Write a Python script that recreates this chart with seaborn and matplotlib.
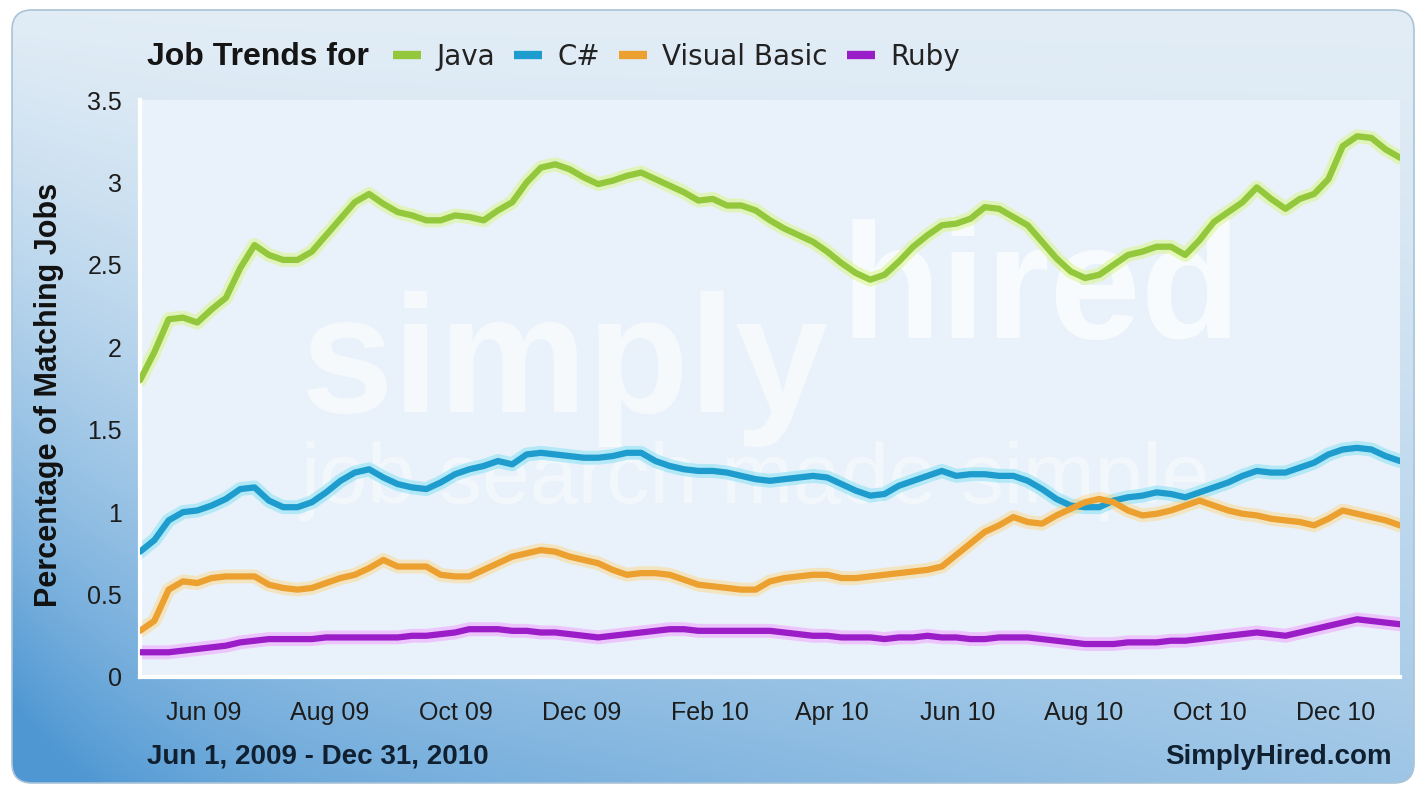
import numpy as np
import pandas as pd
import matplotlib
matplotlib.use("Agg")
import matplotlib.pyplot as plt
import matplotlib.dates as mdates
import matplotlib.colors as mcolors
from matplotlib.lines import Line2D
from matplotlib.patches import FancyBboxPatch
import seaborn as sns

# weekly share of job postings (%)
java = [1.80, 1.97, 2.17, 2.18, 2.15, 2.23, 2.30, 2.48, 2.62, 2.56,
        2.53, 2.53, 2.58, 2.68, 2.78, 2.88, 2.93, 2.87, 2.82, 2.80,
        2.77, 2.77, 2.80, 2.79, 2.77, 2.83, 2.88, 3.00, 3.09, 3.11,
        3.08, 3.03, 2.99, 3.01, 3.04, 3.06, 3.02, 2.98, 2.94, 2.89,
        2.90, 2.86, 2.86, 2.83, 2.77, 2.72, 2.68, 2.64, 2.58, 2.51,
        2.45, 2.41, 2.44, 2.52, 2.61, 2.68, 2.74, 2.75, 2.78, 2.85,
        2.84, 2.79, 2.74, 2.64, 2.54, 2.46, 2.42, 2.44, 2.50, 2.56,
        2.58, 2.61, 2.61, 2.56, 2.65, 2.76, 2.82, 2.88, 2.97, 2.90,
        2.84, 2.90, 2.93, 3.02, 3.22, 3.28, 3.27, 3.20, 3.15]
csharp = [0.76, 0.83, 0.95, 1.00, 1.01, 1.04, 1.08, 1.14, 1.15, 1.07,
          1.03, 1.03, 1.06, 1.12, 1.19, 1.24, 1.26, 1.21, 1.17, 1.15,
          1.14, 1.18, 1.23, 1.26, 1.28, 1.31, 1.29, 1.35, 1.36, 1.35,
          1.34, 1.33, 1.33, 1.34, 1.36, 1.36, 1.31, 1.28, 1.26, 1.25,
          1.25, 1.24, 1.22, 1.20, 1.19, 1.20, 1.21, 1.22, 1.21, 1.17,
          1.13, 1.10, 1.11, 1.16, 1.19, 1.22, 1.25, 1.22, 1.23, 1.23,
          1.22, 1.22, 1.19, 1.14, 1.08, 1.04, 1.03, 1.03, 1.07, 1.09,
          1.10, 1.12, 1.11, 1.09, 1.12, 1.15, 1.18, 1.22, 1.25, 1.24,
          1.24, 1.27, 1.30, 1.35, 1.38, 1.39, 1.38, 1.34, 1.31]
vbasic = [0.28, 0.34, 0.53, 0.58, 0.57, 0.60, 0.61, 0.61, 0.61, 0.56,
          0.54, 0.53, 0.54, 0.57, 0.60, 0.62, 0.66, 0.71, 0.67, 0.67,
          0.67, 0.62, 0.61, 0.61, 0.65, 0.69, 0.73, 0.75, 0.77, 0.76,
          0.73, 0.71, 0.69, 0.65, 0.62, 0.63, 0.63, 0.62, 0.59, 0.56,
          0.55, 0.54, 0.53, 0.53, 0.58, 0.60, 0.61, 0.62, 0.62, 0.60,
          0.60, 0.61, 0.62, 0.63, 0.64, 0.65, 0.67, 0.74, 0.81, 0.88,
          0.92, 0.97, 0.94, 0.93, 0.98, 1.02, 1.06, 1.08, 1.06, 1.01,
          0.98, 0.99, 1.01, 1.04, 1.07, 1.04, 1.01, 0.99, 0.98, 0.96,
          0.95, 0.94, 0.92, 0.96, 1.01, 0.99, 0.97, 0.95, 0.92]
ruby = [0.15, 0.15, 0.15, 0.16, 0.17, 0.18, 0.19, 0.21, 0.22, 0.23,
        0.23, 0.23, 0.23, 0.24, 0.24, 0.24, 0.24, 0.24, 0.24, 0.25,
        0.25, 0.26, 0.27, 0.29, 0.29, 0.29, 0.28, 0.28, 0.27, 0.27,
        0.26, 0.25, 0.24, 0.25, 0.26, 0.27, 0.28, 0.29, 0.29, 0.28,
        0.28, 0.28, 0.28, 0.28, 0.28, 0.27, 0.26, 0.25, 0.25, 0.24,
        0.24, 0.24, 0.23, 0.24, 0.24, 0.25, 0.24, 0.24, 0.23, 0.23,
        0.24, 0.24, 0.24, 0.23, 0.22, 0.21, 0.20, 0.20, 0.20, 0.21,
        0.21, 0.21, 0.22, 0.22, 0.23, 0.24, 0.25, 0.26, 0.27, 0.26,
        0.25, 0.27, 0.29, 0.31, 0.33, 0.35, 0.34, 0.33, 0.32]

languages = ["Java", "C#", "Visual Basic", "Ruby"]
line_colors = ["#93c73c", "#1e9ccd", "#eba02f", "#9b1dc8"]
glow_colors = ["#d4f56c", "#72dcf5", "#ffd47c", "#f090ff"]
yticks = [0, 0.5, 1, 1.5, 2, 2.5, 3, 3.5]
ytick_labels = ["0", "0.5", "1", "1.5", "2", "2.5", "3", "3.5"]

weeks = pd.date_range("2009-05-01", "2011-01-01", periods=len(java))
df = pd.DataFrame({"week": weeks, "Java": java, "C#": csharp,
                   "Visual Basic": vbasic, "Ruby": ruby})
df = df.melt(id_vars="week", var_name="language", value_name="pct")

sns.set_style("white")
plt.rcParams["font.family"] = ["Liberation Sans", "DejaVu Sans"]

W, H = 1426, 795
fig = plt.figure(figsize=(W / 100, H / 100), dpi=100, facecolor="white")

# blue gradient panel behind everything
bg = fig.add_axes([0, 0, 1, 1], zorder=-10)
bg.set_axis_off()
yy, xx = np.mgrid[0:H, 0:W]
ty = yy / H
tx = xx / W
a = np.clip(0.85 * ty ** 1.5 * (1 - 0.45 * tx) + 0.35 * (1 - tx) ** 10 * ty, 0, 1)
c_top = np.array(mcolors.to_rgb("#e2edf6"))
c_dark = np.array(mcolors.to_rgb("#4e97d3"))
img = c_top * (1 - a[..., None]) + c_dark * a[..., None]
im = bg.imshow(img, extent=[0, W, H, 0], aspect="auto", interpolation="bilinear")
bg.set_xlim(0, W)
bg.set_ylim(H, 0)
panel = FancyBboxPatch((12, 10), W - 24, H - 22,
                       boxstyle="round,pad=0,rounding_size=20",
                       facecolor="none", edgecolor="#a9c3d8", lw=1.2)
bg.add_patch(panel)
im.set_clip_path(panel)

# plot area
ax = fig.add_axes([140 / W, 1 - 677 / H, 1260 / W, 577 / H])
ax.set_facecolor("#e9f2fa")

# watermark
wm = dict(transform=fig.transFigure, color="white", zorder=1, ha="left", va="baseline")
ax.text(300 / W, 1 - 412 / H, "simply", fontsize=120, fontweight="bold", alpha=0.55, **wm)
ax.text(840 / W, 1 - 338 / H, "hired", fontsize=118, fontweight="bold", alpha=0.7, **wm)
ax.text(300 / W, 1 - 503 / H, "job search made simple", fontsize=62, alpha=0.45, **wm)

sns.lineplot(data=df, x="week", y="pct", hue="language", hue_order=languages,
             palette=glow_colors, lw=10, alpha=0.45, legend=False, ax=ax, zorder=2)
sns.lineplot(data=df, x="week", y="pct", hue="language", hue_order=languages,
             palette=line_colors, lw=4.5, legend=False, ax=ax, zorder=3)

ax.set_xlim(pd.Timestamp("2009-05-01"), pd.Timestamp("2011-01-01"))
ax.set_ylim(0, 3.5)
ax.set_yticks(yticks)
ax.set_yticklabels(ytick_labels)
ax.xaxis.set_major_locator(mdates.MonthLocator(bymonth=[2, 4, 6, 8, 10, 12]))
ax.xaxis.set_major_formatter(mdates.DateFormatter("%b %y"))
ax.tick_params(length=0, labelsize=18, colors="#1c1c1c")
ax.tick_params(axis="x", pad=17)
ax.tick_params(axis="y", pad=13)
ax.grid(False)
for s in ax.spines.values():
    s.set_visible(False)
for s in ("left", "bottom"):
    ax.spines[s].set_visible(True)
    ax.spines[s].set_color("white")
    ax.spines[s].set_linewidth(3)

ax.set_xlabel("")
ax.set_ylabel("Percentage of Matching Jobs", fontsize=22, fontweight="bold", color="#111111")
ax.yaxis.set_label_coords((64 - 140) / 1260, (677 - 395) / 577)

# header legend
fig.text(147 / W, 1 - 57 / H, "Job Trends for", fontsize=23, fontweight="bold",
         color="#151515", va="center")
handles = [Line2D([0], [0], color=c, lw=6, solid_capstyle="butt") for c in line_colors]
ax.legend(handles, languages, ncol=4, loc="center left",
          bbox_to_anchor=(393 / W, 1 - 57 / H), bbox_transform=fig.transFigure,
          frameon=False, prop={"family": "DejaVu Sans", "size": 20},
          handlelength=1.0, handletextpad=0.55, columnspacing=0.7,
          borderaxespad=0, borderpad=0, labelcolor="#222222")

# footer
foot = dict(fontsize=20, fontweight="bold", color="#102030", va="center")
fig.text(147 / W, 1 - 757 / H, "Jun 1, 2009 - Dec 31, 2010", ha="left", **foot)
fig.text(1392 / W, 1 - 757 / H, "SimplyHired.com", ha="right", **foot)

fig.savefig("out.png", dpi=100)
